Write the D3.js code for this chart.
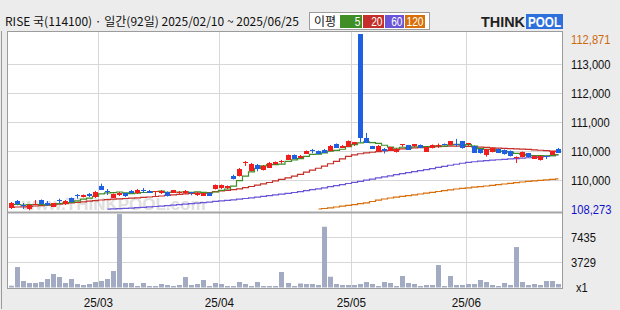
<!DOCTYPE html>
<html><head><meta charset="utf-8">
<script src="https://cdn.jsdelivr.net/npm/d3@7"></script>
<style>body{margin:0;background:#ececec}svg{display:block}</style>
</head><body><svg id="c" width="620" height="310"></svg>
<script>
// ---------- DATA ----------
const dates = ["02/10","02/11","02/12","02/13","02/14","02/17","02/18","02/19","02/20","02/21","02/24","02/25","02/26","02/27","02/28",
"03/04","03/05","03/06","03/07","03/10","03/11","03/12","03/13","03/14","03/17","03/18","03/19","03/20","03/21","03/24","03/25","03/26","03/27","03/28","03/31",
"04/01","04/02","04/03","04/04","04/07","04/08","04/09","04/10","04/11","04/14","04/15","04/16","04/17","04/18","04/21","04/22","04/23","04/24","04/25","04/28","04/29","04/30",
"05/02","05/07","05/08","05/09","05/12","05/13","05/14","05/15","05/16","05/19","05/20","05/21","05/22","05/23","05/26","05/27","05/28","05/29","05/30",
"06/02","06/04","06/05","06/09","06/10","06/11","06/12","06/13","06/16","06/17","06/18","06/19","06/20","06/23","06/24","06/25"];
const openP  = [108359,108533,108437,108333,108421,108559,108489,108385,108559,108447,108611,108676,108637,108723,108629,108915,108793,108619,108681,108733,108801,108733,108819,108801,108759,108733,108767,108749,108733,108733,108754,108681,108671,108741,108845,108871,108871,109191,109183,109508,109313,109477,109347,109399,109487,109534,109607,109729,109651,109763,109846,109833,109867,109833,110007,109919,109945,110015,112871,110179,109955,109841,109885,109841,109799,109981,109981,109971,109989,109815,109911,109950,110015,109981,110015,110085,110002,109963,109877,109721,109807,109885,109859,109833,109643,109677,109773,109633,109591,109690,109737,109877];
const highP  = [108507,108559,108481,108455,108559,108572,108533,108481,108593,108559,108624,108715,108702,108741,108793,108983,108845,108728,108767,108741,108819,108845,108871,108819,108793,108819,108780,108819,108793,108819,108767,108767,108741,108754,108962,108962,108936,109217,109391,109573,109521,109495,109469,109547,109560,109599,109742,109742,109729,109846,109885,109846,109885,109989,110028,109989,110106,110067,112871,110301,109963,109989,109911,109937,109911,110015,109989,110015,110002,109937,110002,110028,110028,110093,110145,110093,110041,109976,109885,109885,109924,109898,109872,109846,109690,109820,109781,109716,109716,109711,109833,109911];
const lowP   = [108325,108421,108325,108291,108416,108442,108403,108377,108473,108429,108494,108593,108624,108637,108611,108819,108689,108611,108663,108637,108728,108715,108741,108741,108663,108715,108650,108741,108715,108715,108681,108663,108663,108663,108832,108845,108845,109092,109170,109443,109300,109305,109326,109391,109469,109503,109599,109625,109638,109755,109773,109742,109781,109820,109911,109911,109937,109963,110049,110041,109885,109833,109768,109833,109789,109937,109859,109937,109911,109807,109898,109911,109976,109971,109945,109893,109963,109781,109763,109685,109794,109781,109737,109690,109521,109664,109659,109625,109581,109625,109729,109781];
const closeP = [108473,108455,108403,108421,108455,108455,108421,108473,108533,108533,108507,108650,108689,108655,108775,108827,108767,108715,108749,108655,108741,108827,108793,108749,108785,108801,108663,108811,108775,108801,108728,108749,108733,108671,108949,108949,108923,109105,109373,109534,109503,109373,109451,109529,109547,109560,109729,109633,109711,109833,109820,109755,109789,109955,109919,109971,110093,110059,110163,110049,109893,109971,109833,109929,109893,110015,109867,110002,109919,109929,109989,109976,109981,110085,109989,109903,110028,109789,109773,109877,109911,109789,109747,109703,109685,109807,109669,109703,109703,109664,109825,109789];
const volume = [265,3022,958,663,663,811,1253,1990,1548,663,1253,516,369,516,811,958,1253,2432,10833,663,663,221,663,221,221,516,369,221,369,1548,369,516,1106,221,663,516,221,221,811,516,221,811,221,221,221,2285,663,221,590,516,516,369,8962,1592,516,369,369,369,516,811,516,221,811,663,221,1695,663,516,221,369,369,3316,221,1695,369,369,516,516,1106,811,369,221,663,369,5970,811,369,516,369,958,958,516];
const ma5 = [108442,108442,108429,108437,108442,108437,108432,108445,108468,108484,108494,108538,108582,108606,108655,108720,108744,108749,108767,108744,108725,108738,108754,108754,108780,108790,108759,108762,108767,108770,108757,108772,108757,108736,108767,108811,108845,108920,109061,109178,109287,109378,109446,109477,109479,109492,109563,109599,109635,109693,109745,109750,109781,109830,109849,109877,109945,109999,110041,110067,110051,110028,109981,109934,109903,109929,109908,109942,109940,109947,109942,109963,109958,109992,110005,109986,109997,109958,109895,109875,109875,109828,109820,109804,109768,109747,109721,109713,109713,109708,109713,109737];
const ma20 = [108369,108377,108382,108390,108403,108413,108424,108434,108450,108465,108481,108497,108512,108528,108543,108559,108569,108580,108588,108598,108606,108616,108627,108637,108650,108663,108679,108694,108707,108718,108728,108738,108746,108754,108777,108798,108811,108827,108850,108879,108910,108944,108980,109014,109053,109092,109131,109178,109227,109282,109334,109383,109438,109500,109560,109625,109690,109729,109760,109781,109799,109815,109833,109849,109869,109885,109898,109911,109921,109932,109942,109947,109953,109958,109960,109958,109950,109940,109932,109924,109916,109908,109901,109893,109888,109882,109872,109862,109851,109841,109830,109817];
const ma60Start = 16;
const ma60 = [108320,108328,108335,108343,108348,108359,108369,108380,108390,108400,108413,108426,108439,108452,108465,108478,108491,108504,108523,108538,108551,108562,108580,108598,108616,108634,108653,108671,108692,108712,108733,108754,108775,108801,108827,108850,108876,108905,108933,108959,108988,109017,109045,109074,109102,109131,109160,109188,109217,109243,109269,109295,109323,109349,109375,109404,109433,109461,109487,109513,109534,109552,109568,109581,109594,109604,109615,109625,109635,109646,109656,109667,109677,109690,109708,109729];
const ma120Start = 51;
const ma120 = [108325,108338,108356,108377,108398,108419,108439,108463,108486,108520,108554,108585,108611,108632,108653,108673,108694,108715,108736,108757,108780,108803,108824,108845,108861,108876,108892,108907,108923,108939,108957,108975,108993,109011,109027,109040,109053,109066,109079,109092,109105];
const priceMax = 112871, priceMin = 108273;
const priceTickValues = [112095,111341,110587,109833,109079];
const priceTickLabels = ["113,000","112,000","111,000","110,000","110,000"];
const volTickValues = [7435,3729];
const volTickLabels = ["7435","3729"];
const monthTickDates = ["03/04","04/01","05/02","06/02"];
const monthTickLabels = ["25/03","25/04","25/05","25/06"];
const maNames = ["5","20","60","120"];
const maColors = ["#3f8f26","#c42f2a","#6a55d8","#d86f0a"];
const titleText = "RISE 국(114100) · 일간(92일) 2025/02/10 ~ 2025/06/25";

// ---------- LAYOUT ----------
const svg = d3.select("#c");
const L = 8, R = 562, T = 32, PB = 212, VB = 288;
const n = dates.length;
const x = d3.scaleBand().domain(d3.range(n)).range([L, R]).paddingInner(0.17).paddingOuter(0.085);
const step = x.step();
const y = d3.scaleLinear().domain([priceMin, priceMax]).range([211, 34]);
const yv = d3.scaleLinear().domain([0, 7435]).range([287.5, 237.1]);
const fontAx = "'Liberation Sans', Arial, sans-serif";

svg.append("rect").attr("width",620).attr("height",310).attr("fill","#ececec");
svg.append("line").attr("x1",1.5).attr("x2",1.5).attr("y1",31).attr("y2",309).attr("stroke","#9a9a9a");
svg.append("rect").attr("x",L).attr("y",T).attr("width",R-L).attr("height",VB-T).attr("fill","#fff");

const clip = svg.append("defs").append("clipPath").attr("id","pc");
clip.append("rect").attr("x",L).attr("y",T).attr("width",R-L).attr("height",PB-T);

// grid
const g = svg.append("g");
g.selectAll(".hg").data(priceTickValues).join("line")
  .attr("x1",L).attr("x2",R).attr("y1",d=>Math.round(y(d))+0.5).attr("y2",d=>Math.round(y(d))+0.5)
  .attr("stroke","#d7d7d7");
g.selectAll(".vg").data(volTickValues).join("line")
  .attr("x1",L).attr("x2",R).attr("y1",d=>Math.round(yv(d))+0.5).attr("y2",d=>Math.round(yv(d))+0.5)
  .attr("stroke","#d7d7d7");
const monthIdx = monthTickDates.map(d=>dates.indexOf(d));
const mx = i => Math.round(x(i) - step*x.paddingInner()/2) + 0.5;
g.selectAll(".mg").data(monthIdx).join("line")
  .attr("x1",mx).attr("x2",mx).attr("y1",T).attr("y2",VB).attr("stroke","#d7d7d7");

// watermark
svg.append("text").attr("x",22).attr("y",210).attr("font-family","'Liberation Sans',Arial,sans-serif")
  .attr("font-weight","bold").attr("font-size",17).attr("fill","#d2d2d2").attr("opacity",0.7)
  .text("www.THINKPOOL.com");

// volume bars
svg.append("g").selectAll("rect").data(volume).join("rect")
  .attr("x",(d,i)=>Math.round(x(i))).attr("width",5)
  .attr("y",d=>yv(d)).attr("height",d=>yv(0)-yv(d)).attr("fill","#a3abc3");

// MA lines
const pg = svg.append("g").attr("clip-path","url(#pc)");
const cx = i => Math.round(x(i)) + 2.5;
const maSeries = [
  ma5.map((v,i)=>[i,v]),
  ma20.map((v,i)=>[i,v]),
  ma60.map((v,i)=>[i+ma60Start,v]),
  ma120.map((v,i)=>[i+ma120Start,v])
];
const line = d3.line().x(d=>cx(d[0])).y(d=>y(d[1])).curve(d3.curveStep);
[3,2,1,0].forEach(k=>{
  pg.append("path").attr("d",line(maSeries[k])).attr("fill","none")
    .attr("stroke",maColors[k]).attr("stroke-width",1.2);
});

// candles
const up = "#f21d1d", dn = "#1f5fe2";
const cg = pg.append("g");
d3.range(n).forEach(i=>{
  const col = closeP[i] >= openP[i] ? up : dn;
  const xc = cx(i);
  cg.append("line").attr("x1",xc).attr("x2",xc).attr("y1",y(highP[i])).attr("y2",y(lowP[i])).attr("stroke",col);
  const yt = y(Math.max(openP[i],closeP[i])), yb = y(Math.min(openP[i],closeP[i]));
  cg.append("rect").attr("x",Math.round(x(i))).attr("width",5)
    .attr("y",Math.round(yt)).attr("height",Math.max(1,Math.round(yb)-Math.round(yt))).attr("fill",col);
});

// frames
svg.append("rect").attr("x",L-0.5).attr("y",T-0.5).attr("width",R-L+1).attr("height",VB-T+1)
  .attr("fill","none").attr("stroke","#9c9c9c");
svg.append("line").attr("x1",L).attr("x2",R).attr("y1",PB+0.5).attr("y2",PB+0.5).attr("stroke","#a6a6a6").attr("stroke-width",2);

// right axis labels
function axText(txt, yy, col, xx){
  svg.append("text").attr("transform",`translate(${xx||571},${yy}) scale(0.86,1)`)
    .attr("font-family",fontAx).attr("font-size",13).attr("fill",col||"#111").attr("dy","0.35em").text(txt);
}
axText("112,871", 39, "#cc6a10");
priceTickValues.forEach((v,k)=>axText(priceTickLabels[k], Math.round(y(v))+0.5));
axText("108,273", 209, "#1010cc");
volTickValues.forEach((v,k)=>axText(volTickLabels[k], Math.round(yv(v))+0.5));
axText("x1", 287, "#111", 576);

// month labels
monthIdx.forEach((i,k)=>{
  svg.append("text").attr("transform",`translate(${mx(i)},302) scale(0.9,1)`).attr("text-anchor","middle")
    .attr("dy","0.35em").attr("font-family",fontAx).attr("font-size",13).attr("fill","#111").text(monthTickLabels[k]);
});

// header
svg.append("text").attr("x",5).attr("y",26).attr("font-family","'Noto Sans CJK KR','Noto Sans',sans-serif")
  .attr("font-size",12).attr("fill","#111").text(titleText);
// legend box
const lg = svg.append("g").attr("transform","translate(309,12)");
lg.append("rect").attr("x",0.5).attr("y",0.5).attr("width",120).attr("height",17).attr("fill","#fff").attr("stroke","#9c9c9c");
lg.append("text").attr("x",5).attr("y",13.5).attr("font-family","'Noto Sans CJK KR',sans-serif").attr("font-size",12).attr("fill","#111").text("이평");
const bw = [23,22,20,21];
let bx = 31;
maNames.forEach((nm,k)=>{
  lg.append("rect").attr("x",bx).attr("y",3).attr("width",bw[k]-1).attr("height",13).attr("fill",maColors[k]);
  lg.append("text").attr("transform",`translate(${bx+bw[k]-2.5},14) scale(0.85,1)`).attr("text-anchor","end").attr("font-family",fontAx)
    .attr("font-size",12).attr("fill","#fff").text(nm);
  bx += bw[k];
});
// logo
const lo = svg.append("g").attr("transform","translate(481,13)");
lo.append("text").attr("x",0).attr("y",14).attr("font-family","'Liberation Sans',Arial,sans-serif").attr("font-weight","bold")
  .attr("font-size",15).attr("fill","#222").attr("textLength",44).attr("lengthAdjust","spacingAndGlyphs").text("THINK");
lo.append("rect").attr("x",45).attr("y",1).attr("width",37).attr("height",15).attr("fill","#2d6fdc");
lo.append("text").attr("x",47).attr("y",14).attr("font-family","'Liberation Sans',Arial,sans-serif").attr("font-weight","bold")
  .attr("font-size",15).attr("fill","#fff").attr("textLength",33).attr("lengthAdjust","spacingAndGlyphs").text("POOL");
</script></body></html>
